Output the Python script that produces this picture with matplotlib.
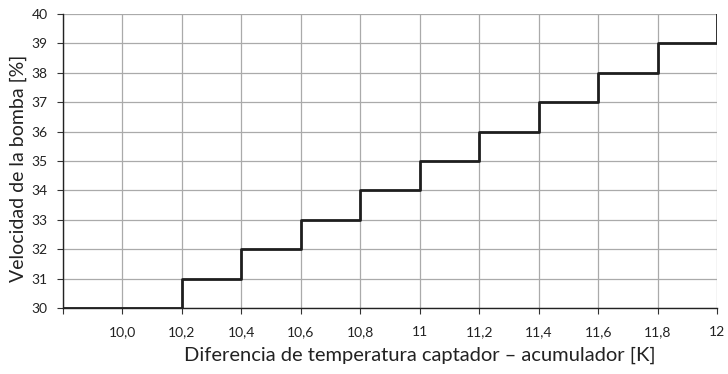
import matplotlib
matplotlib.use('Agg')
import matplotlib.pyplot as plt

## step curve data: temperature difference [K] vs pump speed [%]
diff_k = [9.8, 10.2, 10.4, 10.6, 10.8, 11.0, 11.2, 11.4, 11.6, 11.8, 12.0]
speed_pct = [30, 31, 32, 33, 34, 35, 36, 37, 38, 39, 40]

x_ticks = [9.8, 10.0, 10.2, 10.4, 10.6, 10.8, 11.0, 11.2, 11.4, 11.6, 11.8, 12.0]
x_tick_labels = ['', '10,0', '10,2', '10,4', '10,6', '10,8', '11', '11,2', '11,4', '11,6', '11,8', '12']
y_ticks = list(range(30, 41))

fig = plt.figure(figsize=(7.28, 3.74), dpi=100)
ax = fig.add_axes([0.0865, 0.1765, 0.8985, 0.786])

ax.plot(diff_k, speed_pct, drawstyle='steps-post', color='#1e1e1e', linewidth=2.0, zorder=3)

ax.set_xlim(9.8, 12.0)
ax.set_ylim(30, 40)
ax.set_xticks(x_ticks)
ax.set_xticklabels(x_tick_labels, family='Lato', fontsize=10, color='#222222')
ax.set_yticks(y_ticks)
ax.set_yticklabels([str(v) for v in y_ticks], family='Lato', fontsize=10, color='#222222')
ax.tick_params(axis='x', length=4, width=0.8, color='#333333', pad=9)
ax.tick_params(axis='y', length=4, width=0.8, color='#333333', pad=7)

## grid lines, outer frame only on left and bottom
ax.grid(True, color='#aaaaaa', linewidth=0.9)
ax.set_axisbelow(True)
ax.spines['top'].set_visible(False)
ax.spines['right'].set_visible(False)
for side in ['left', 'bottom']:
    ax.spines[side].set_color('#222222')
    ax.spines[side].set_linewidth(1.0)

## axis titles placed as figure text (not centred on the axes in the original)
fig.text(0.577, 0.049, 'Diferencia de temperatura captador \u2013 acumulador [K]', family='Lato',
         fontsize=14.5, color='#222222', ha='center', va='center')
fig.text(0.025, 0.551, 'Velocidad de la bomba [%]', family='Lato', fontsize=14,
         color='#222222', ha='center', va='center', rotation=90)

fig.savefig('out.png', dpi=100)
